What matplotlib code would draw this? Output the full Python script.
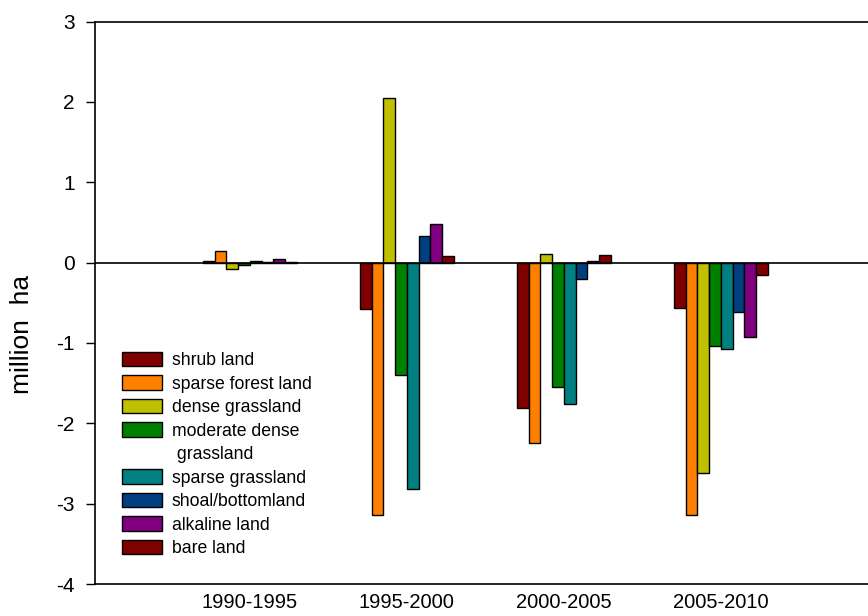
import numpy as np
import matplotlib
matplotlib.use("Agg")
import matplotlib.pyplot as plt
from matplotlib.patches import Patch

plt.rcParams['font.family'] = ['Liberation Sans', 'DejaVu Sans']
plt.rcParams['axes.unicode_minus'] = False

periods = ["1990-1995", "1995-2000", "2000-2005", "2005-2010"]
land_types = ["shrub land", "sparse forest land", "dense grassland", "moderate dense",
              "sparse grassland", "shoal/bottomland", "alkaline land", "bare land"]
colors = ["#800000", "#FF8000", "#C0C000", "#008000",
          "#008080", "#004080", "#800080", "#800000"]

shrub_land        = [0.02, -0.58, -1.81, -0.56]
sparse_forest     = [0.14, -3.14, -2.24, -3.14]
dense_grassland   = [-0.075, 2.05, 0.11, -2.62]
moderate_dense    = [-0.025, -1.40, -1.55, -1.04]
sparse_grassland  = [0.02, -2.82, -1.76, -1.07]
shoal_bottomland  = [0.005, 0.33, -0.21, -0.61]
alkaline_land     = [0.05, 0.48, 0.025, -0.92]
bare_land         = [0.003, 0.08, 0.10, -0.16]

series = [shrub_land, sparse_forest, dense_grassland, moderate_dense,
          sparse_grassland, shoal_bottomland, alkaline_land, bare_land]

W, H = 868, 616
fig = plt.figure(figsize=(W / 100, H / 100), dpi=100)
ax = fig.add_axes([95 / W, 1 - 584 / H, (W - 95) / W, (584 - 21.5) / H])

x = np.arange(1, len(periods) + 1)
w = 0.075
for i, (vals, c) in enumerate(zip(series, colors)):
    ax.bar(x + (i - 3.5) * w, vals, width=w, color=c, edgecolor='black',
           linewidth=1.0, zorder=3)

ax.axhline(0, color='black', linewidth=1.2, zorder=4)

ax.set_xlim(0.013, 4.937)
ax.set_ylim(-4, 3)
ax.set_yticks(np.arange(-4, 4, 1))
ax.set_xticks(x)
ax.set_xticklabels(periods)
ax.tick_params(axis='y', length=6.5, width=1.0, pad=8, labelsize=15, direction='out')
ax.tick_params(axis='x', length=0, pad=6.5, labelsize=14.5)

for s in ['left', 'top', 'bottom']:
    ax.spines[s].set_linewidth(1.2)
ax.spines['right'].set_visible(False)

fig.text(22 / W, 1 - 334 / H, "million  ha", rotation=90, ha='center', va='center',
         fontsize=19)

handles = [Patch(facecolor=c, edgecolor='black', linewidth=1.0) for c in colors]
labels = list(land_types)
handles.insert(4, Patch(facecolor='none', edgecolor='none'))
labels.insert(4, " grassland")

fs = 12.7
fspx = fs * 100 / 72
leg = ax.legend(handles, labels, loc='upper left',
                bbox_to_anchor=(121.7 / W, 1 - 352 / H),
                bbox_transform=fig.transFigure, frameon=False, fontsize=fs,
                borderpad=0, borderaxespad=0, handlelength=40 / fspx,
                handleheight=15 / fspx, handletextpad=10 / fspx,
                labelspacing=0.36)

fig.savefig("out.png", dpi=100)
